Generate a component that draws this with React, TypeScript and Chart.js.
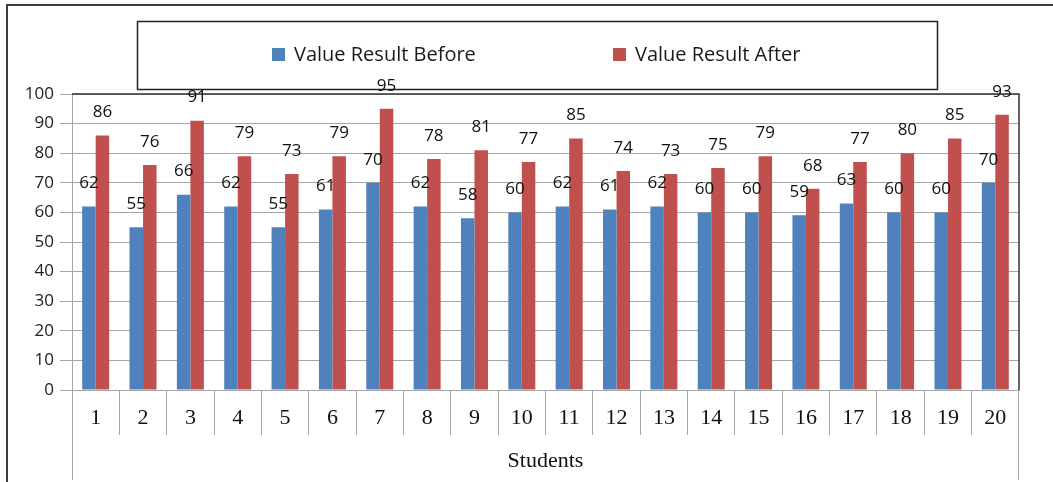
import React, { useEffect, useRef } from "react";
import { Chart, registerables } from "chart.js";

Chart.register(...registerables);

const categories = ["1","2","3","4","5","6","7","8","9","10","11","12","13","14","15","16","17","18","19","20"];
const beforeValues = [62, 55, 66, 62, 55, 61, 70, 62, 58, 60, 62, 61, 62, 60, 60, 59, 63, 60, 60, 70];
const afterValues = [86, 76, 91, 79, 73, 79, 95, 78, 81, 77, 85, 74, 73, 75, 79, 68, 77, 80, 85, 93];
const seriesLabels = ["Value Result Before", "Value Result After"];
const seriesColors = ["#4F81BD", "#C0504D"];
const yTicks = [0, 10, 20, 30, 40, 50, 60, 70, 80, 90, 100];
const xTitle = "Students";

const SANS = "'Open Sans', 'Noto Sans', sans-serif";
const SERIF = "'Liberation Serif', 'DejaVu Serif', serif";

const decorPlugin = {
  id: "decor",
  beforeDraw(chart: any) {
    const { ctx, width, height } = chart;
    ctx.save();
    ctx.fillStyle = "#ffffff";
    ctx.fillRect(0, 0, width, height);
    ctx.restore();
  },
  afterDraw(chart: any) {
    const { ctx, chartArea } = chart;
    const { left, right, top, bottom } = chartArea;
    ctx.save();

    // outer frame (top and left)
    ctx.strokeStyle = "#3c3c3c";
    ctx.lineWidth = 2;
    ctx.beginPath();
    ctx.moveTo(7, 482);
    ctx.lineTo(7, 5);
    ctx.lineTo(1053, 5);
    ctx.stroke();

    // plot area top & right border
    ctx.strokeStyle = "#333333";
    ctx.lineWidth = 1.5;
    ctx.beginPath();
    ctx.moveTo(left, top);
    ctx.lineTo(right, top);
    ctx.lineTo(right, bottom);
    ctx.stroke();

    // x-axis edge extensions
    ctx.strokeStyle = "#a6a6a6";
    ctx.lineWidth = 1;
    ctx.beginPath();
    ctx.moveTo(left + 0.5, bottom);
    ctx.lineTo(left + 0.5, 480);
    ctx.moveTo(right - 0.5, bottom);
    ctx.lineTo(right - 0.5, 480);
    ctx.stroke();

    // legend box
    ctx.strokeStyle = "#222222";
    ctx.lineWidth = 1.5;
    ctx.strokeRect(137.5, 21.5, 800, 68);
    const itemX = [272, 613];
    ctx.font = `20px ${SANS}`;
    ctx.textBaseline = "middle";
    ctx.textAlign = "left";
    chart.data.datasets.forEach((ds: any, i: number) => {
      ctx.fillStyle = ds.backgroundColor;
      ctx.fillRect(itemX[i], 48, 13, 13);
      ctx.fillStyle = "#1a1a1a";
      ctx.fillText(ds.label, itemX[i] + 22, 55);
    });

    // data labels
    ctx.font = `17px ${SANS}`;
    ctx.textAlign = "center";
    ctx.textBaseline = "middle";
    ctx.fillStyle = "#111111";
    chart.data.datasets.forEach((ds: any, i: number) => {
      const meta = chart.getDatasetMeta(i);
      meta.data.forEach((el: any, j: number) => {
        ctx.fillText(String(ds.data[j]), el.x, el.y - 23);
      });
    });
    ctx.restore();
  },
};

export default function App() {
  const canvasRef = useRef<HTMLCanvasElement | null>(null);

  useEffect(() => {
    document.body.style.margin = "0";
    const canvas = canvasRef.current;
    if (!canvas) return;
    const chart = new Chart(canvas, {
      type: "bar",
      data: {
        labels: categories,
        datasets: [
          { label: seriesLabels[0], data: beforeValues, backgroundColor: seriesColors[0], categoryPercentage: 0.57, barPercentage: 1.0 },
          { label: seriesLabels[1], data: afterValues, backgroundColor: seriesColors[1], categoryPercentage: 0.57, barPercentage: 1.0 },
        ],
      },
      options: {
        responsive: false,
        animation: false,
        devicePixelRatio: 1,
        layout: { padding: { top: 94, right: 34, bottom: 0, left: 0 } },
        plugins: {
          legend: { display: false },
          tooltip: { enabled: false },
          title: { display: false },
        },
        scales: {
          x: {
            grid: {
              offset: true,
              drawOnChartArea: false,
              tickLength: 45,
              color: "#a6a6a6",
              lineWidth: 1,
            },
            border: { display: true, color: "#a6a6a6" },
            ticks: {
              font: { family: SERIF, size: 22 },
              color: "#111111",
              padding: -30,
              maxRotation: 0,
              autoSkip: false,
            },
            title: {
              display: true,
              text: xTitle,
              font: { family: SERIF, size: 22 },
              color: "#111111",
              padding: { top: 0, bottom: 8 },
            },
            afterFit: (s: any) => {
              s.height = 92;
            },
          },
          y: {
            min: 0,
            max: 100,
            afterBuildTicks: (s: any) => {
              s.ticks = yTicks.map((v) => ({ value: v }));
            },
            grid: { color: "#a6a6a6", lineWidth: 1, tickLength: 12 },
            border: { display: true, color: "#a6a6a6" },
            ticks: {
              font: { family: SANS, size: 17 },
              color: "#222222",
              padding: 6,
            },
            afterFit: (s: any) => {
              s.width = 72;
            },
          },
        },
      },
      plugins: [decorPlugin],
    });
    return () => chart.destroy();
  }, []);

  return (
    <div style={{ width: 1053, height: 482, position: "relative" }}>
      <canvas ref={canvasRef} width={1053} height={482} style={{ display: "block" }} />
    </div>
  );
}
